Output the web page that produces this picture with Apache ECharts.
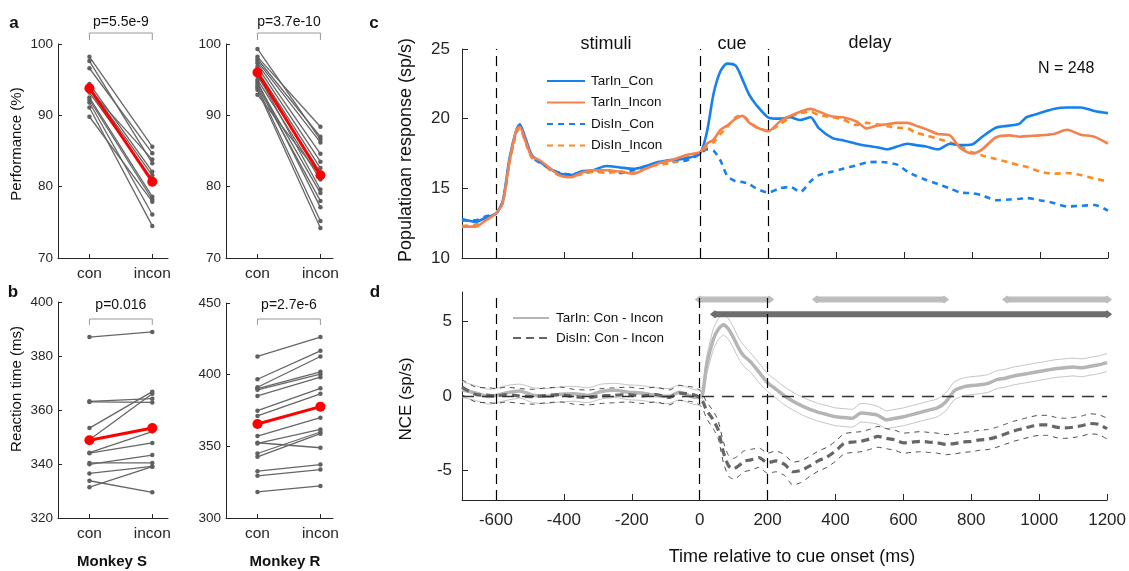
<!DOCTYPE html>
<html><head><meta charset="utf-8">
<script src="https://cdn.jsdelivr.net/npm/echarts@6/dist/echarts.min.js"></script>
<style>html,body{margin:0;padding:0;background:#fff}#c{width:1129px;height:571px}</style>
</head><body><div id="c"></div>
<script>
// ---------------- DATA ----------------
const conditions = ['con', 'incon'];

// Panel a: performance (%)
const perfS_con   = [98.2, 97.6, 96.6, 94.4, 94.0, 93.6, 93.2, 92.5, 92.2, 91.8, 91.1, 89.8];
const perfS_incon = [85.6, 83.3, 84.7, 82.1, 81.6, 83.8, 81.0, 78.6, 78.2, 76.1, 74.5, 77.9];
const perfS_mean  = [93.8, 80.7];
const perfR_con   = [99.3, 98.2, 97.9, 97.6, 97.3, 96.8, 96.3, 95.8, 95.5, 95.0, 94.7, 94.4, 94.1, 93.9, 93.6, 92.9];
const perfR_incon = [86.6, 88.4, 87.0, 86.2, 84.6, 83.5, 82.6, 79.6, 82.0, 81.0, 77.1, 79.1, 78.0, 75.2, 74.2, 81.5];
const perfR_mean  = [96.0, 81.6];

// Panel b: reaction time (ms)
const rtS_con   = [387.0, 363.2, 363.0, 353.3, 349.0, 344.2, 344.0, 340.4, 339.9, 336.5, 333.8, 331.4];
const rtS_incon = [388.9, 364.2, 362.8, 366.8, 366.0, 352.0, 347.8, 340.4, 343.3, 339.1, 329.5, 339.0];
const rtS_mean  = [348.8, 353.3];
const rtR_con   = [412.7, 396.8, 391.2, 390.3, 389.4, 385.2, 374.9, 371.2, 357.2, 352.5, 352.0, 345.0, 342.7, 332.7, 329.4, 318.2];
const rtR_incon = [426.2, 416.6, 412.7, 402.0, 400.3, 398.2, 390.5, 386.6, 370.0, 349.0, 361.8, 360.0, 358.8, 337.3, 333.8, 322.4];
const rtR_mean  = [365.6, 377.7];

const pTexts = ['p=5.5e-9', 'p=3.7e-10', 'p=0.016', 'p=2.7e-6'];

// Panel c: population response (sp/s)
const tC = [-700,-660,-630,-600,-580,-560,-540,-530,-515,-495,-470,-440,-410,-380,-350,-315,-275,-235,-195,-160,-120,-80,-40,0,
  20,40,60,80,105,125,145,165,
  200,235,265,295,325,350,390,420,460,490,520,550,580,610,635,665,700,735,765,800,830,870,910,940,960,1000,1040,1080,1120,1160,1200];
const tarCon = [12.8,12.6,12.9,13.2,14.1,17.2,19.2,19.6,18.7,17.4,16.9,16.4,16.05,15.95,16.2,16.3,16.6,16.5,16.4,16.6,16.9,17.05,17.15,17.5,
  19.0,21.8,23.4,23.95,23.8,22.8,21.7,21.0,
  20.1,20.0,20.1,19.9,20.1,19.3,18.6,18.45,18.2,18.05,17.95,17.8,18.0,18.2,18.1,18.0,17.8,18.2,18.1,18.15,18.7,19.35,19.5,19.65,20.1,20.4,20.7,20.8,20.8,20.55,20.4];
const tarIncon = [12.25,12.25,12.7,13.2,14.0,17.0,19.2,19.4,18.5,17.3,17.0,16.4,15.9,15.8,16.1,16.3,16.3,16.2,16.05,16.4,16.8,17.05,17.4,17.6,
  18.2,18.5,19.2,19.5,20.0,20.2,19.7,19.4,
  19.1,19.8,20.2,20.5,20.7,20.5,20.15,20.1,19.8,19.3,19.5,19.6,19.7,19.7,19.5,19.25,18.9,18.8,17.9,17.5,17.8,18.65,18.8,18.7,18.75,18.8,18.9,19.2,18.85,18.7,18.2];
const disCon = [12.7,12.7,13.0,13.2,14.0,17.0,19.1,19.5,18.6,17.3,16.8,16.4,16.1,16.0,16.1,16.2,16.3,16.1,16.3,16.5,16.8,16.9,17.0,17.45,
  17.8,17.7,17.0,15.9,15.5,15.45,15.3,15.0,
  14.7,15.0,15.1,14.75,15.5,15.95,16.2,16.4,16.65,16.85,16.9,16.85,16.7,16.2,15.9,15.6,15.3,15.0,14.7,14.65,14.5,14.15,14.2,14.25,14.3,14.15,13.95,13.7,13.75,13.8,13.4];
const disIncon = [12.3,12.4,12.8,13.2,14.0,16.9,19.0,19.3,18.4,17.2,16.9,16.3,15.9,15.85,16.0,16.2,16.1,16.2,16.1,16.5,16.7,16.85,17.2,17.55,
  18.0,18.3,18.9,19.4,20.1,20.2,19.8,19.4,
  19.15,19.6,20.1,20.4,20.5,20.25,20.1,19.95,19.55,19.7,19.6,19.45,19.35,19.3,19.0,18.8,18.55,18.3,18.0,17.6,17.35,17.1,16.85,16.65,16.55,16.2,16.05,16.1,15.95,15.7,15.5];

// Panel d: NCE (sp/s)
const tD = [-700,-660,-620,-600,-570,-530,-490,-450,-410,-370,-330,-290,-250,-210,-170,-130,-90,-60,-20,0,
  10,20,40,55,70,85,100,115,130,150,175,
  200,225,250,275,300,325,350,375,400,425,450,475,500,525,550,575,600,625,650,675,700,725,750,775,800,825,850,875,900,925,950,975,1000,1025,1050,1075,1100,1125,1150,1175,1200];
const tarM = [0.42,0.2,-0.05,0.04,0.2,0.33,0.05,-0.02,0.11,0.15,0.04,0.3,0.38,0.26,0.2,0.04,-0.02,0.26,-0.07,-0.1,
  0.3,2.0,3.8,4.5,4.8,4.5,3.9,3.2,2.7,2.3,1.6,
  0.9,0.45,0.0,-0.35,-0.65,-0.9,-1.1,-1.25,-1.4,-1.45,-1.5,-1.15,-1.2,-1.3,-1.6,-1.5,-1.4,-1.25,-1.1,-0.95,-0.8,-0.4,0.35,0.6,0.7,0.75,0.85,1.1,1.2,1.35,1.45,1.55,1.65,1.75,1.85,1.9,1.95,1.9,2.0,2.1,2.25];
const tarU = [0.95,0.7,0.45,0.5,0.7,0.8,0.55,0.5,0.6,0.65,0.55,0.8,0.85,0.75,0.7,0.55,0.5,0.75,0.45,0.4,
  0.7,2.6,4.5,5.2,5.5,5.2,4.6,3.9,3.4,2.9,2.2,
  1.5,1.05,0.6,0.25,-0.05,-0.3,-0.5,-0.65,-0.8,-0.85,-0.9,-0.5,-0.55,-0.7,-1.0,-0.9,-0.8,-0.65,-0.5,-0.35,-0.2,0.2,0.95,1.2,1.3,1.35,1.45,1.7,1.8,1.95,2.05,2.15,2.25,2.35,2.45,2.5,2.55,2.5,2.6,2.7,2.85];
const tarL = [-0.1,-0.3,-0.55,-0.45,-0.3,-0.15,-0.45,-0.5,-0.4,-0.35,-0.45,-0.2,-0.1,-0.25,-0.3,-0.45,-0.5,-0.25,-0.55,-0.6,
  -0.1,1.4,3.1,3.8,4.1,3.8,3.2,2.5,2.0,1.6,0.9,
  0.3,-0.15,-0.6,-0.95,-1.25,-1.5,-1.7,-1.85,-2.0,-2.05,-2.1,-1.75,-1.8,-1.9,-2.2,-2.1,-2.0,-1.85,-1.7,-1.55,-1.4,-1.0,-0.25,0.0,0.1,0.15,0.25,0.5,0.6,0.75,0.85,0.95,1.05,1.15,1.25,1.3,1.35,1.3,1.4,1.5,1.65];
const disM = [0.6,0.1,0.05,0.0,0.1,0.0,-0.05,0.05,0.1,-0.05,-0.1,0.0,0.05,0.1,0.0,0.1,-0.1,0.2,0.1,-0.1,
  -0.4,-0.95,-1.6,-2.3,-3.8,-4.7,-4.9,-4.7,-4.4,-4.3,-4.15,
  -4.5,-4.37,-4.6,-5.1,-5.0,-4.7,-4.35,-4.1,-3.7,-3.2,-3.1,-3.05,-2.9,-2.72,-2.85,-2.95,-3.15,-3.1,-3.05,-3.1,-3.15,-3.25,-3.2,-3.1,-3.05,-2.95,-2.9,-2.75,-2.55,-2.35,-2.2,-2.05,-1.95,-1.95,-2.1,-2.15,-2.1,-2.0,-1.85,-1.9,-2.2];
const disU = [1.1,0.6,0.55,0.5,0.6,0.5,0.45,0.55,0.6,0.45,0.4,0.5,0.55,0.6,0.5,0.6,0.4,0.7,0.6,0.4,
  0.1,-0.4,-1.0,-1.7,-3.1,-4.0,-4.2,-4.0,-3.7,-3.6,-3.5,
  -3.85,-3.7,-3.95,-4.45,-4.35,-4.05,-3.7,-3.45,-3.05,-2.55,-2.45,-2.4,-2.25,-2.05,-2.2,-2.3,-2.5,-2.45,-2.4,-2.45,-2.5,-2.6,-2.55,-2.45,-2.4,-2.3,-2.25,-2.1,-1.9,-1.7,-1.55,-1.4,-1.3,-1.3,-1.45,-1.5,-1.45,-1.35,-1.2,-1.25,-1.5];
const disL = [0.1,-0.4,-0.45,-0.5,-0.4,-0.5,-0.55,-0.45,-0.4,-0.55,-0.6,-0.5,-0.45,-0.4,-0.5,-0.4,-0.6,-0.3,-0.4,-0.6,
  -0.9,-1.5,-2.2,-2.9,-4.5,-5.4,-5.6,-5.4,-5.1,-5.0,-4.8,
  -5.2,-5.1,-5.35,-6.0,-5.8,-5.4,-5.05,-4.8,-4.4,-3.9,-3.8,-3.75,-3.6,-3.45,-3.55,-3.65,-3.85,-3.8,-3.75,-3.8,-3.85,-3.95,-3.9,-3.8,-3.75,-3.65,-3.6,-3.45,-3.25,-3.05,-2.9,-2.75,-2.65,-2.65,-2.8,-2.85,-2.8,-2.7,-2.55,-2.6,-2.9];

// significance periods (ms)
const sigTarPeriods = [[0, 205], [345, 720], [905, 1200]];
const sigDisPeriods = [[45, 1200]];

const eventTimes = [-600, 0, 200];
const timeTicks = [-600, -400, -200, 0, 200, 400, 600, 800, 1000, 1200];
const nceTicks = [-5, 0, 5];

// ---------------- CHART ----------------
const chart = echarts.init(document.getElementById('c'));
const FONT = "'Liberation Sans', Arial, Helvetica, sans-serif";
const AX = '#262626';
const BLUE = '#1580ee', ORS = '#f4824f', ORD = '#ff8a1c';

const grids = [
  {left: 58, top: 44, width: 110, height: 214},
  {left: 226, top: 44, width: 107, height: 214},
  {left: 58, top: 302, width: 110, height: 216},
  {left: 226, top: 303, width: 107, height: 215},
  {left: 462, top: 49, width: 646, height: 209},
  {left: 462, top: 292, width: 646, height: 208}
];
const axLine = {show: true, onZero: false, lineStyle: {color: AX, width: 1}};

function condX(g, max) {
  return {gridIndex: g, type: 'value', min: 0.5, max: max, axisLine: axLine,
    axisTick: {show: true, inside: true, length: 4, customValues: [1, 2], lineStyle: {color: AX}},
    axisLabel: {customValues: [1, 2], formatter: v => conditions[Math.round(v) - 1], color: AX, fontSize: 15.5, fontFamily: FONT, margin: 8},
    splitLine: {show: false}};
}
function valY(g, min, max, interval) {
  return {gridIndex: g, type: 'value', min, max, interval, axisLine: axLine,
    axisTick: {show: true, inside: true, length: 4, lineStyle: {color: AX}},
    axisLabel: {color: AX, fontSize: 13.5, fontFamily: FONT, margin: 5},
    splitLine: {show: false}};
}

const xAxes = [condX(0, 2.25), condX(1, 2.2), condX(2, 2.25), condX(3, 2.2),
  {gridIndex: 4, type: 'value', min: -700, max: 1200, axisLine: axLine,
    axisTick: {show: true, inside: true, length: 6, customValues: timeTicks, lineStyle: {color: AX}},
    axisLabel: {show: false}, splitLine: {show: false}},
  {gridIndex: 5, type: 'value', min: -700, max: 1200, axisLine: axLine,
    axisTick: {show: true, inside: true, length: 6, customValues: timeTicks, lineStyle: {color: AX}},
    axisLabel: {customValues: timeTicks, formatter: v => String(v), color: AX, fontSize: 17, fontFamily: FONT, margin: 12},
    splitLine: {show: false}}
];
const yAxes = [valY(0, 70, 100, 10), valY(1, 70, 100, 10), valY(2, 320, 400, 20), valY(3, 300, 450, 50),
  {gridIndex: 4, type: 'value', min: 10, max: 25, interval: 5, axisLine: axLine,
    axisTick: {show: true, inside: true, length: 6, lineStyle: {color: AX}},
    axisLabel: {color: AX, fontSize: 17, fontFamily: FONT, margin: 12}, splitLine: {show: false}},
  {gridIndex: 5, type: 'value', min: -7, max: 7, axisLine: axLine,
    axisTick: {show: true, inside: true, length: 6, customValues: nceTicks, lineStyle: {color: AX}},
    axisLabel: {customValues: nceTicks, formatter: v => String(v), color: AX, fontSize: 17, fontFamily: FONT, margin: 10}, splitLine: {show: false}}
];

const series = [];
function sessions(g, con, incon, mean) {
  con.forEach((c, i) => series.push({type: 'line', xAxisIndex: g, yAxisIndex: g, silent: true, z: 2,
    data: [[1, c], [2, incon[i]]], symbol: 'circle', symbolSize: 4.5,
    lineStyle: {color: '#666', width: 1.3}, itemStyle: {color: '#606060'}}));
  series.push({type: 'line', xAxisIndex: g, yAxisIndex: g, silent: true, z: 5,
    data: [[1, mean[0]], [2, mean[1]]], symbol: 'circle', symbolSize: 10,
    lineStyle: {color: '#ff0000', width: 3}, itemStyle: {color: '#ff0000'}});
}
sessions(0, perfS_con, perfS_incon, perfS_mean);
sessions(1, perfR_con, perfR_incon, perfR_mean);
sessions(2, rtS_con, rtS_incon, rtS_mean);
sessions(3, rtR_con, rtR_incon, rtR_mean);

const VDASH = [10, 6];
const vlines = {silent: true, symbol: 'none', label: {show: false}, animation: false,
  lineStyle: {color: '#000', type: VDASH, width: 1.2}, data: eventTimes.map(t => ({xAxis: t}))};

function cLine(name, vals, color, dashed) {
  return {name, type: 'line', xAxisIndex: 4, yAxisIndex: 4, silent: true, symbol: 'none', showSymbol: false, smooth: 0.25,
    data: tC.map((t, i) => [t, vals[i]]), itemStyle: {color},
    lineStyle: {color, width: 2.6, type: dashed ? [6, 5] : 'solid'}};
}
const sDC = cLine('DisIn_Con', disCon, BLUE, true); sDC.markLine = vlines;
series.push(sDC, cLine('DisIn_Incon', disIncon, ORD, true), cLine('TarIn_Con', tarCon, BLUE, false), cLine('TarIn_Incon', tarIncon, ORS, false));

function dLine(name, vals, color, width, type, z) {
  return {name, type: 'line', xAxisIndex: 5, yAxisIndex: 5, silent: true, symbol: 'none', showSymbol: false, smooth: 0.2, z,
    data: tD.map((t, i) => [t, vals[i]]), itemStyle: {color}, lineStyle: {color, width, type}};
}
const dZero = dLine('tarUpper', tarU, '#c4c4c4', 1, 'solid', 2);
dZero.markLine = {silent: true, symbol: 'none', label: {show: false},
  lineStyle: {color: '#000', type: VDASH, width: 1.2},
  data: eventTimes.map(t => ({xAxis: t})).concat([{yAxis: 0, lineStyle: {color: '#333', type: [12, 8], width: 1.3}}])};
series.push(dZero,
  dLine('tarLower', tarL, '#c4c4c4', 1, 'solid', 2),
  dLine('TarIn: Con - Incon', tarM, '#b5b5b5', 3.5, 'solid', 3),
  dLine('disUpper', disU, '#4a4a4a', 1, [5, 5], 2),
  dLine('disLower', disL, '#4a4a4a', 1, [5, 5], 2),
  dLine('DisIn: Con - Incon', disM, '#666666', 3.2, [8, 5], 3));

function sig(periods, y, color) {
  periods.forEach(p => series.push({type: 'line', xAxisIndex: 5, yAxisIndex: 5, silent: true, clip: false, z: 4,
    data: [[p[0], y], [p[1], y]], symbol: 'diamond', symbolSize: [10, 8],
    lineStyle: {color, width: 6}, itemStyle: {color}}));
}
sig(sigTarPeriods, 6.5, '#bdbdbd');
sig(sigDisPeriods, 5.5, '#6e6e6e');

const txt = (text, x, y, size, opts = {}) => Object.assign({type: 'text', x, y, silent: true,
  style: {text, fill: '#111', font: `${opts.bold ? 'bold ' : ''}${size}px ${FONT}`,
    align: opts.align || 'center', verticalAlign: 'middle'}}, opts.rot ? {rotation: Math.PI / 2} : {});

const option = {
  animation: false,
  backgroundColor: '#fff',
  grid: grids,
  xAxis: xAxes,
  yAxis: yAxes,
  legend: [
    {data: ['TarIn_Con', 'TarIn_Incon', 'DisIn_Con', 'DisIn_Incon'], orient: 'vertical', left: 541, top: 69,
      itemWidth: 38, itemHeight: 14, itemGap: 7.5, selectedMode: false,
      itemStyle: {opacity: 0, borderWidth: 0},
      textStyle: {fontSize: 13.5, fontFamily: FONT, color: '#111', padding: [0, 0, 0, 1]}},
    {data: ['TarIn: Con - Incon', 'DisIn: Con - Incon'], orient: 'vertical', left: 507, top: 306,
      itemWidth: 36, itemHeight: 14, itemGap: 6, selectedMode: false,
      itemStyle: {opacity: 0, borderWidth: 0},
      textStyle: {fontSize: 13.5, fontFamily: FONT, color: '#111', padding: [0, 0, 0, 2]}}
  ],
  series
};
chart.setOption(option);

// annotations
const g = [];
g.push(txt('a', 14, 23, 17, {bold: true}), txt('b', 13, 292, 17, {bold: true}),
  txt('c', 374, 23, 17, {bold: true}), txt('d', 375, 292, 17, {bold: true}));
g.push(txt('Monkey S', 112, 562, 15, {bold: true}), txt('Monkey R', 285, 562, 15, {bold: true}));
g.push(txt('Performance (%)', 17, 144, 15, {rot: true}), txt('Reaction time (ms)', 17, 389, 15, {rot: true}));
g.push(txt('Populatioan response (sp/s)', 406, 150, 18, {rot: true}), txt('NCE (sp/s)', 406, 399, 17, {rot: true}));
g.push(txt('Time relative to cue onset (ms)', 792, 557, 18));
g.push(txt('stimuli', 606, 44, 18), txt('cue', 732, 44, 18), txt('delay', 870, 43, 18));
g.push(txt('N = 248', 1038, 69, 16, {align: 'left'}));
const brackets = [{grid: 0, top: 33, leg: 40, ty: 22}, {grid: 1, top: 33, leg: 40, ty: 22},
  {grid: 2, top: 319, leg: 325, ty: 305}, {grid: 3, top: 319, leg: 325, ty: 305}];
brackets.forEach((b, i) => {
  const x1 = chart.convertToPixel({gridIndex: b.grid}, [1, 0])[0];
  const x2 = chart.convertToPixel({gridIndex: b.grid}, [2, 0])[0];
  g.push({type: 'polyline', silent: true, shape: {points: [[x1, b.leg], [x1, b.top], [x2, b.top], [x2, b.leg]]},
    style: {stroke: '#999', lineWidth: 1, fill: null}});
  g.push(txt(pTexts[i], (x1 + x2) / 2, b.ty, 14));
});
chart.setOption({graphic: g});
</script>
</body></html>
